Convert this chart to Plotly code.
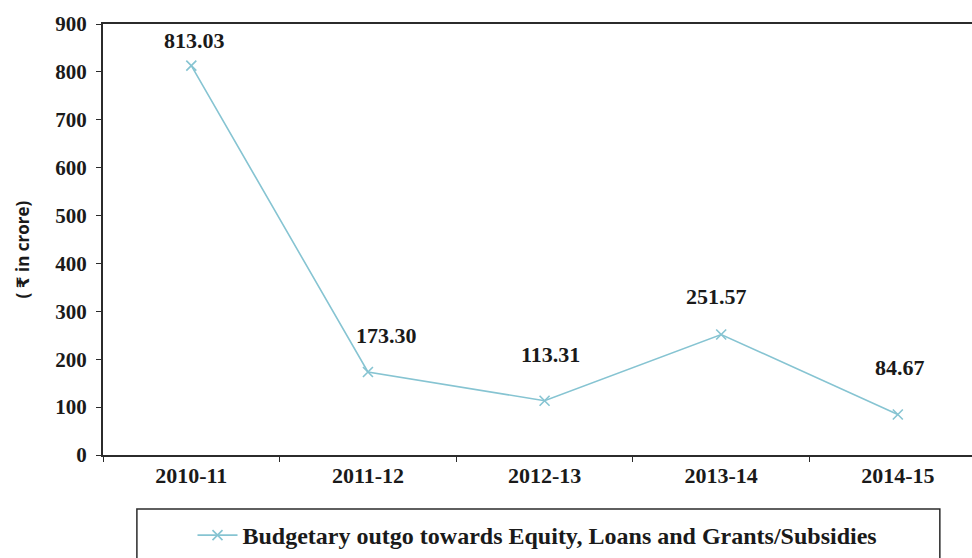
import plotly.graph_objects as go

# Budgetary outgo by year (₹ in crore)
years = ["2010-11", "2011-12", "2012-13", "2013-14", "2014-15"]
outgo = [813.03, 173.30, 113.31, 251.57, 84.67]
value_labels = ["813.03", "173.30", "113.31", "251.57", "84.67"]
y_ticks = [0, 100, 200, 300, 400, 500, 600, 700, 800, 900]

# per-label pixel offsets for the value annotations
label_dx = [3, 19, 6, -5, 2]
label_dy = [25, 37, 46, 38, 47]

line_color = "#86c4d2"
axis_color = "#2b2b2b"
text_color = "#1a1a1a"
serif = "Liberation Serif, Times New Roman, serif"

fig = go.Figure()
fig.add_trace(go.Scatter(
    x=years, y=outgo,
    mode="lines+markers",
    name="<b>Budgetary outgo towards Equity, Loans and Grants/Subsidies</b>",
    line=dict(color=line_color, width=1.6),
    marker=dict(symbol="x-thin", size=10, line=dict(color=line_color, width=1.6)),
))

for x, y, t, dx, dy in zip(years, outgo, value_labels, label_dx, label_dy):
    fig.add_annotation(x=x, y=y, text=f"<b>{t}</b>", showarrow=False,
                       xshift=dx, yshift=dy,
                       font=dict(family=serif, size=22, color=text_color))

# y-axis title
fig.add_annotation(xref="paper", yref="paper", x=-0.0932, y=0.477,
                   xanchor="center", yanchor="middle",
                   text="<b>( ₹ in crore)</b>", textangle=-90, showarrow=False,
                   font=dict(family="Open Sans, DejaVu Sans, sans-serif", size=17, color=text_color))

# legend frame
fig.add_shape(type="rect", xref="paper", yref="paper",
              x0=0.039, x1=0.963, y0=-0.125, y1=-0.26,
              line=dict(color=axis_color, width=1.5), fillcolor="rgba(0,0,0,0)")

fig.update_layout(
    width=972, height=558,
    margin=dict(l=103, r=0, t=24, b=102),
    paper_bgcolor="white", plot_bgcolor="white",
    showlegend=True,
    legend=dict(x=0.5, y=-0.1875, xanchor="center", yanchor="middle",
                orientation="h", bgcolor="rgba(0,0,0,0)",
                font=dict(family=serif, size=24, color=text_color),
                itemwidth=40),
    xaxis=dict(
        type="category", range=[-0.5, 4.42],
        showline=True, linecolor=axis_color, linewidth=2, mirror=True,
        ticks="outside", tickson="boundaries", ticklen=5, tickcolor=axis_color,
        showgrid=False, zeroline=False,
        tickfont=dict(family=serif, size=22, color=text_color),
        tickprefix="<b>", ticksuffix="</b>",
    ),
    yaxis=dict(
        range=[0, 900], tickvals=y_ticks,
        ticktext=[f"<b>{v}</b>" for v in y_ticks],
        showline=True, linecolor=axis_color, linewidth=2,
        ticks="outside", ticklen=5, tickcolor=axis_color,
        ticklabelstandoff=5,
        showgrid=False, zeroline=False,
        tickfont=dict(family=serif, size=21, color=text_color),
    ),
)

fig.write_html("out.html")
